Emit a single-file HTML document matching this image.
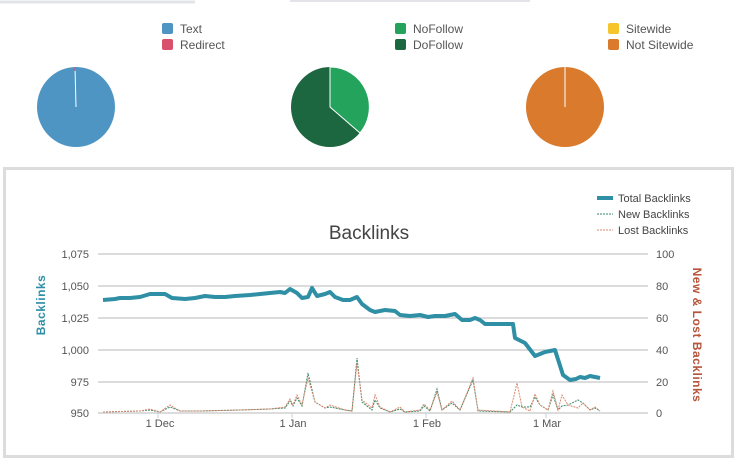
<!DOCTYPE html>
<html><head><meta charset="utf-8"><style>
body{margin:0;width:744px;height:467px;background:#fff;overflow:hidden;font-family:"Liberation Sans",sans-serif}
svg text{font-family:"Liberation Sans",sans-serif}
</style></head><body>
<svg width="744" height="467" viewBox="0 0 744 467" xmlns="http://www.w3.org/2000/svg">
<line x1="0" y1="2" x2="195" y2="2" stroke="#e2e4ea" stroke-width="3"/>
<line x1="290" y1="1" x2="530" y2="1" stroke="#e2e4ea" stroke-width="2"/>
<!-- legends -->
<g font-size="12" fill="#555">
<rect x="162" y="23" width="11" height="11" rx="2" fill="#4f95c4"/><text x="180" y="33">Text</text>
<rect x="162" y="39" width="11" height="11" rx="2" fill="#d9506e"/><text x="180" y="49">Redirect</text>
<rect x="395" y="23" width="11" height="11" rx="2" fill="#24a35d"/><text x="413" y="33">NoFollow</text>
<rect x="395" y="39" width="11" height="11" rx="2" fill="#1c6640"/><text x="413" y="49">DoFollow</text>
<rect x="608" y="23" width="11" height="11" rx="2" fill="#f6c52b"/><text x="626" y="33">Sitewide</text>
<rect x="608" y="39" width="11" height="11" rx="2" fill="#d97a2d"/><text x="626" y="49">Not Sitewide</text>
</g>
<!-- pies -->
<ellipse cx="76" cy="107" rx="39" ry="40" fill="#4f95c4"/>
<line x1="76" y1="107" x2="75" y2="67" stroke="#fff" stroke-width="1"/>
<line x1="75" y1="67" x2="75" y2="71" stroke="#d9506e" stroke-width="1"/>
<ellipse cx="330" cy="107" rx="39" ry="40" fill="#1c6640"/>
<path d="M330,107 L330,67 A39,40 0 0 1 360,133 Z" fill="#24a35d" stroke="#fff" stroke-width="1"/>
<ellipse cx="565" cy="107" rx="39" ry="40" fill="#d97a2d"/>
<line x1="565" y1="107" x2="565" y2="67" stroke="#fff" stroke-width="1"/>
<!-- panel -->
<rect x="4.5" y="168.5" width="728" height="288" fill="#fff" stroke="#dcdcdc" stroke-width="3"/>
<text x="369" y="239" font-size="19" fill="#444" text-anchor="middle">Backlinks</text>
<!-- legend -->
<line x1="597" y1="198" x2="613" y2="198" stroke="#2e8fa5" stroke-width="4"/>
<text x="618" y="202" font-size="11" fill="#444">Total Backlinks</text>
<line x1="597" y1="214" x2="613" y2="214" stroke="#3a8a6a" stroke-width="1" stroke-dasharray="2,1"/>
<text x="618" y="218" font-size="11" fill="#444">New Backlinks</text>
<line x1="597" y1="230" x2="613" y2="230" stroke="#d98a70" stroke-width="1" stroke-dasharray="2,1"/>
<text x="618" y="234" font-size="11" fill="#444">Lost Backlinks</text>
<!-- grid -->
<g stroke="#c8c8c8" stroke-width="1.3">
<line x1="98" y1="254" x2="648" y2="254"/><line x1="98" y1="286" x2="648" y2="286"/>
<line x1="98" y1="318" x2="648" y2="318"/><line x1="98" y1="350" x2="648" y2="350"/>
<line x1="98" y1="382" x2="648" y2="382"/><line x1="98" y1="413" x2="648" y2="413"/>
</g>
<g stroke="#c0d0e0"><line x1="158" y1="413" x2="158" y2="418"/><line x1="292" y1="413" x2="292" y2="418"/><line x1="426" y1="413" x2="426" y2="418"/><line x1="546" y1="413" x2="546" y2="418"/></g>
<g font-size="11" fill="#555" text-anchor="end">
<text x="89" y="258">1,075</text><text x="89" y="290">1,050</text><text x="89" y="322">1,025</text>
<text x="89" y="354">1,000</text><text x="89" y="386">975</text><text x="89" y="417">950</text>
</g>
<g font-size="11" fill="#555">
<text x="656" y="258">100</text><text x="656" y="290">80</text><text x="656" y="322">60</text>
<text x="656" y="354">40</text><text x="656" y="386">20</text><text x="656" y="417">0</text>
</g>
<g font-size="11" fill="#555" text-anchor="middle">
<text x="160" y="427">1 Dec</text><text x="293" y="427">1 Jan</text><text x="427" y="427">1 Feb</text><text x="547" y="427">1 Mar</text>
</g>
<text transform="translate(45,305) rotate(-90)" font-size="12" font-weight="bold" fill="#2e8fa5" text-anchor="middle" letter-spacing="0.5">Backlinks</text>
<text transform="translate(693,335) rotate(90)" font-size="12" font-weight="bold" fill="#b5553a" text-anchor="middle" letter-spacing="0.5">New &amp; Lost Backlinks</text>
<!-- series -->
<polyline fill="none" stroke="#3a8a6a" stroke-width="1" stroke-dasharray="2,1" points="103,412 140,411 150,410 160,412 170,407 180,411 200,411 240,410 270,409 285,408 290,401 293,406 297,398 302,406 308,373 315,402 325,408 330,407 345,410 352,411 357,358 362,402 372,410 375,400 380,408 390,412 400,409 405,412 420,411 424,406 430,411 437,389 442,410 452,403 460,410 473,380 478,411 510,412 517,405 522,407 530,407 535,397 540,405 548,410 553,395 558,410 562,406 568,405 578,400 583,403 590,410 595,408 600,411"/>
<polyline fill="none" stroke="#d98a70" stroke-width="1" stroke-dasharray="2,1" points="103,412 140,411 150,409 160,412 170,405 180,411 200,411 240,410 270,409 285,407 290,399 293,405 297,395 302,405 308,378 315,402 325,408 330,405 345,410 352,411 357,363 362,400 372,408 375,395 380,407 390,412 400,407 405,412 420,410 424,404 430,410 437,392 442,410 452,401 460,410 473,378 478,410 510,412 517,383 522,407 530,411 535,394 540,405 548,410 553,391 558,410 562,395 568,405 578,408 583,403 590,410 595,407 600,411"/>
<polyline fill="none" stroke="#2e8fa5" stroke-width="4" stroke-linejoin="round" points="103,300 115,299 120,298 130,298 140,297 150,294 165,294 172,298 185,299 195,298 205,296 215,297 225,297 235,296 250,295 260,294 270,293 280,292 285,293 290,289 297,293 302,298 308,297 312,288 317,296 325,294 330,292 335,297 343,300 350,300 357,297 362,304 370,310 375,312 385,310 395,311 400,315 410,316 420,315 428,317 435,316 445,316 455,314 462,320 470,320 475,318 480,320 485,324 513,324 515,338 525,343 535,356 545,352 555,350 563,375 570,380 576,379 580,377 585,378 590,376 600,378"/>
</svg>
</body></html>
